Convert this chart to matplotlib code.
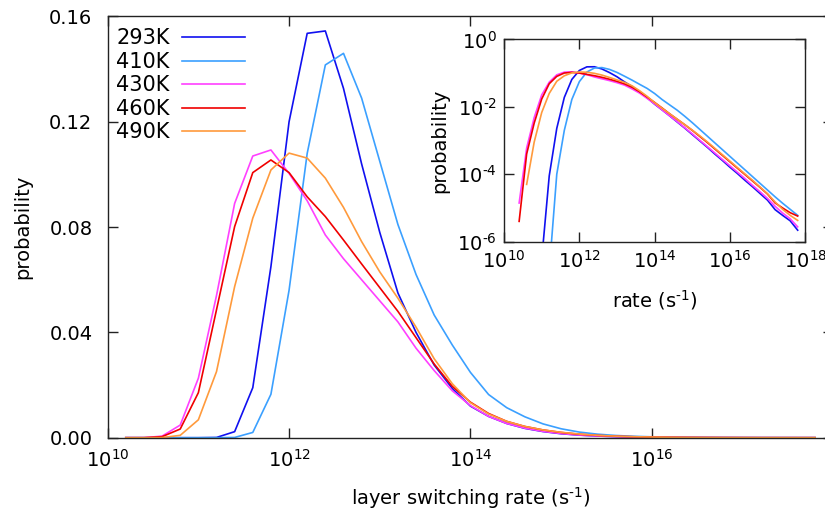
import numpy as np
import matplotlib
matplotlib.use('Agg')
import matplotlib.pyplot as plt
from matplotlib.ticker import NullLocator

# rate bins, log10 of the layer switching rate (s^-1)
rate_exp = [10.2, 10.4, 10.6, 10.8, 11.0, 11.2, 11.4, 11.6, 11.8, 12.0,
            12.2, 12.4, 12.6, 12.8, 13.0, 13.2, 13.4, 13.6, 13.8, 14.0,
            14.2, 14.4, 14.6, 14.8, 15.0, 15.2, 15.4, 15.6, 15.8, 16.0,
            16.2, 16.4, 16.6, 16.8, 17.0, 17.2, 17.4, 17.6, 17.8]

labels = ['293K', '410K', '430K', '460K', '490K']
colours = ['#1010f0', '#3ba0ff', '#ff40ff', '#f00000', '#ff9a3c']

p_293 = [0, 0, 0, 0, 3e-7, 9e-5, 0.0023, 0.019, 0.065, 0.120,
         0.1536, 0.1545, 0.1327, 0.104, 0.078, 0.055, 0.040, 0.0276, 0.0187, 0.0120,
         0.0081, 0.0054, 3.55e-3, 2.34e-3, 1.51e-3, 9.77e-4, 6.31e-4, 3.98e-4, 2.57e-4, 1.62e-4,
         1.05e-4, 6.61e-5, 4.27e-5, 2.69e-5, 1.70e-5, 8.91e-6, 6.03e-6, 4.17e-6, 2.19e-6]
p_410 = [0, 0, 0, 0, 0, 1.4e-7, 1e-4, 0.0020, 0.0165, 0.056,
         0.108, 0.1416, 0.146, 0.129, 0.105, 0.081, 0.062, 0.0466, 0.0352, 0.0248,
         0.0164, 0.0114, 7.94e-3, 5.25e-3, 3.39e-3, 2.14e-3, 1.35e-3, 8.51e-4, 5.37e-4, 3.39e-4,
         2.14e-4, 1.35e-4, 8.51e-5, 5.37e-5, 3.39e-5, 2.14e-5, 1.38e-5, 9.12e-6, 6.03e-6]
p_430 = [0, 1.4e-5, 0.0006, 0.0048, 0.0226, 0.054, 0.089, 0.107, 0.1093, 0.1004,
         0.090, 0.077, 0.068, 0.060, 0.052, 0.044, 0.034, 0.0255, 0.0178, 0.0122,
         0.0081, 0.0054, 3.63e-3, 2.40e-3, 1.58e-3, 1.02e-3, 6.61e-4, 4.27e-4, 2.75e-4, 1.78e-4,
         1.15e-4, 7.41e-5, 4.68e-5, 3.02e-5, 1.91e-5, 1.12e-5, 7.08e-6, 4.79e-6, 2.75e-6]
p_460 = [0, 4e-6, 0.0004, 0.0033, 0.0171, 0.0486, 0.0802, 0.1007, 0.1055, 0.1007,
         0.0915, 0.0840, 0.0751, 0.066, 0.057, 0.048, 0.038, 0.028, 0.0195, 0.0135,
         0.0092, 0.0062, 4.27e-3, 2.95e-3, 2.00e-3, 1.32e-3, 8.71e-4, 5.62e-4, 3.63e-4, 2.34e-4,
         1.51e-4, 9.77e-5, 6.31e-5, 4.07e-5, 2.57e-5, 1.41e-5, 1.00e-5, 7.24e-6, 5.75e-6]
p_490 = [0, 0, 5e-5, 0.0009, 0.0068, 0.0251, 0.0574, 0.0834, 0.1017, 0.1081,
         0.1062, 0.0986, 0.0875, 0.0745, 0.063, 0.053, 0.042, 0.030, 0.0205, 0.0133,
         0.0090, 0.0062, 4.27e-3, 2.95e-3, 2.04e-3, 1.38e-3, 9.12e-4, 5.89e-4, 3.80e-4, 2.45e-4,
         1.58e-4, 1.02e-4, 6.61e-5, 4.17e-5, 2.63e-5, 1.51e-5, 9.12e-6, 6.03e-6, 4.27e-6]

series = [p_293, p_410, p_430, p_460, p_490]
rate = 10.0 ** np.array(rate_exp)

plt.rcParams['font.family'] = 'DejaVu Sans'
plt.rcParams['font.size'] = 14


def style_axes(ax, pad_x, pad_y):
    for s in ax.spines.values():
        s.set_linewidth(1.0)
        s.set_color('#222222')
    ax.tick_params(which='major', direction='in', length=7, width=1.0,
                   top=True, right=True, colors='#222222', labelcolor='black')
    ax.tick_params(axis='x', pad=pad_x)
    ax.tick_params(axis='y', pad=pad_y)
    ax.xaxis.set_minor_locator(NullLocator())
    ax.yaxis.set_minor_locator(NullLocator())


fig = plt.figure(figsize=(8.25, 5.12), dpi=100)

# main panel
ax = fig.add_axes([0.1305, 0.1451, 0.8795, 0.8227])
for p, lab, col in zip(series, labels, colours):
    ax.plot(rate, p, color=col, lw=1.2, label=lab)
ax.set_xscale('log')
ax.set_xlim(1e10, 1e18)
ax.set_ylim(0, 0.16)
ax.set_xticks([1e10, 1e12, 1e14, 1e16])
ax.set_yticks([0.0, 0.04, 0.08, 0.12, 0.16])
ax.set_yticklabels(['0.00', '0.04', '0.08', '0.12', '0.16'])
style_axes(ax, 8, 11)
ax.set_xlabel('layer switching rate (s$^{\\text{-}1}$)', labelpad=10)
ax.set_ylabel('probability', labelpad=12)
ax.legend(loc='upper left', bbox_to_anchor=(0.012, 0.972), markerfirst=False,
          frameon=False, fontsize=15, handlelength=3.0, handletextpad=0.6,
          labelspacing=0.17, borderaxespad=0, borderpad=0)

# inset, log-log
ins = fig.add_axes([0.611, 0.528, 0.365, 0.395])
for p, col in zip(series, colours):
    p = np.array(p, dtype=float)
    ins.plot(rate, np.where(p > 0, p, np.nan), color=col, lw=1.2)
ins.set_xscale('log')
ins.set_yscale('log')
ins.set_xlim(1e10, 1e18)
ins.set_ylim(1e-6, 1)
ins.set_xticks([1e10, 1e12, 1e14, 1e16, 1e18])
ins.set_yticks([1e-6, 1e-4, 1e-2, 1])
ins.set_yticklabels(['$10^{\\text{-}6}$', '$10^{\\text{-}4}$',
                     '$10^{\\text{-}2}$', '$10^{0}$'])
style_axes(ins, 6, 5)
ins.set_xlabel('rate (s$^{\\text{-}1}$)', labelpad=12)
ins.set_ylabel('probability', labelpad=6)

fig.savefig('out.png', dpi=100)
